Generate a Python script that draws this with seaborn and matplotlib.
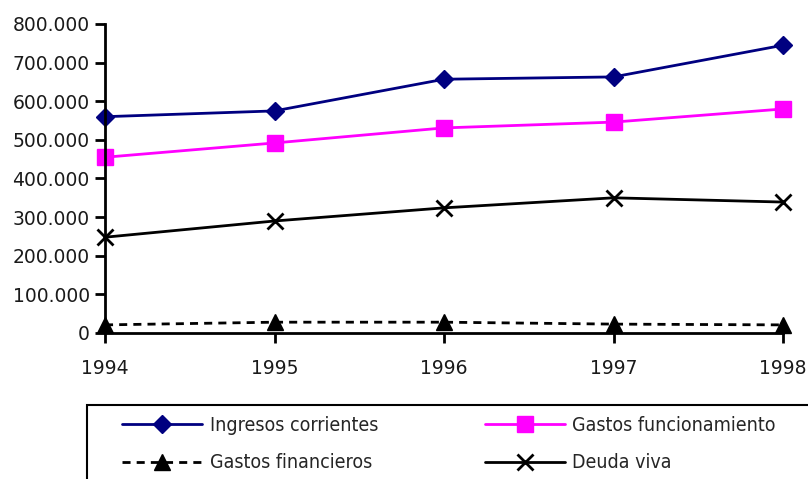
import matplotlib
matplotlib.use("Agg")
import matplotlib.pyplot as plt
import matplotlib.ticker as mticker
from matplotlib.patches import Rectangle
import seaborn as sns
import pandas as pd

years = [1994, 1995, 1996, 1997, 1998]
ingresos_corrientes = [560000, 575000, 657000, 663000, 745000]
gastos_funcionamiento = [455000, 492000, 531000, 546000, 580000]
gastos_financieros = [21000, 28000, 28000, 23000, 21000]
deuda_viva = [248000, 290000, 324000, 350000, 339000]

series_names = ["Ingresos corrientes", "Gastos funcionamiento",
                "Gastos financieros", "Deuda viva"]

df = pd.DataFrame({
    "year": years * 4,
    "value": ingresos_corrientes + gastos_funcionamiento + gastos_financieros + deuda_viva,
    "serie": sum([[n] * len(years) for n in series_names], []),
})

sns.set_theme(style="white")
plt.rcParams["font.family"] = ["DejaVu Sans"]

W, H = 808, 479
fig = plt.figure(figsize=(W / 100, H / 100), dpi=100)
ax = fig.add_axes([105 / W, 1 - 333 / H, (783 - 105) / W, (333 - 24) / H])

styles = {
    "Ingresos corrientes": dict(color="#000080", marker="D", ms=9, ls="-"),
    "Gastos funcionamiento": dict(color="#FF00FF", marker="s", ms=11, ls="-"),
    "Gastos financieros": dict(color="black", marker="^", ms=11, ls=(0, (2.9, 2.2))),
    "Deuda viva": dict(color="black", marker="x", ms=12, ls="-", mew=2),
}

handles = {}
for name in series_names:
    st = styles[name]
    sub = df[df["serie"] == name]
    sns.lineplot(data=sub, x="year", y="value", ax=ax, color=st["color"],
                 marker=st["marker"], markersize=st["ms"], linestyle=st["ls"],
                 linewidth=2, markeredgecolor=st["color"],
                 markeredgewidth=st.get("mew", 1), clip_on=False, label=name,
                 legend=False)
    handles[name] = ax.lines[-1]

ax.set_xlim(1994, 1998)
ax.set_ylim(0, 800000)
ax.set_xticks(years)
ax.set_yticks(range(0, 800001, 100000))
ax.yaxis.set_major_formatter(mticker.FuncFormatter(
    lambda v, p: "0" if v == 0 else f"{int(v):,}".replace(",", ".")))
ax.set_xlabel("")
ax.set_ylabel("")
for s in ["top", "right"]:
    ax.spines[s].set_visible(False)
for s in ["left", "bottom"]:
    ax.spines[s].set_color("black")
    ax.spines[s].set_linewidth(2)
ax.tick_params(axis="y", direction="out", length=7, width=2, color="black",
               labelsize=13.5, labelcolor="#1a1a1a", pad=4, left=True)
ax.tick_params(axis="x", direction="out", length=7, width=2, color="black",
               labelsize=13.5, labelcolor="#1a1a1a", pad=12, bottom=True)

# legend box runs past the right and bottom edges of the figure
fig.patches.append(Rectangle((87 / W, -0.1), 1.0, 1 - 405 / H + 0.1,
                             transform=fig.transFigure, fill=False,
                             edgecolor="black", linewidth=1.5))

# column-major order so the rows read: Ingresos | Funcionamiento, Financieros | Deuda
order = ["Ingresos corrientes", "Gastos financieros",
         "Gastos funcionamiento", "Deuda viva"]
leg = fig.legend(handles=[handles[n] for n in order], labels=order, ncol=2,
                 loc="upper left", bbox_to_anchor=(122 / W, 1 - 416 / H),
                 frameon=False, handlelength=4.1, handletextpad=0.4,
                 columnspacing=5.5, borderaxespad=0, borderpad=0,
                 labelspacing=0.95,
                 prop={"family": "DejaVu Sans", "stretch": "condensed", "size": 14})

fig.savefig("out.png", dpi=100)
